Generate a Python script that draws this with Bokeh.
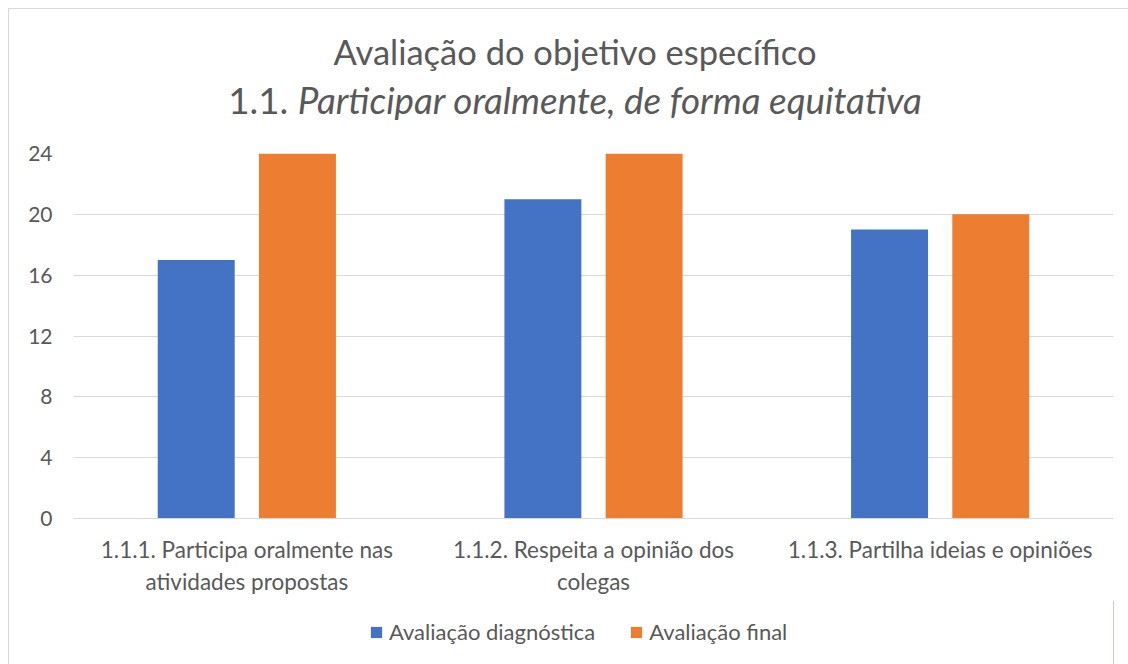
from bokeh.plotting import figure
from bokeh.models import (FactorRange, Range1d, Legend, LegendItem,
                          ColumnDataSource, FixedTicker, Div)
from bokeh.layouts import column
from bokeh.transform import dodge
from bokeh.embed import file_html
from bokeh.resources import INLINE

categories = [
    "1.1.1. Participa oralmente nas\natividades propostas",
    "1.1.2. Respeita a opinião dos\ncolegas",
    "1.1.3. Partilha ideias e opiniões",
]
diagnostica = [17, 21, 19]
final = [24, 24, 20]
series_names = ["Avaliação diagnóstica", "Avaliação final"]
y_ticks = [0, 4, 8, 12, 16, 20, 24]
title_line1 = "Avaliação do objetivo específico"
title_line2_prefix = "1.1."
title_line2_italic = "Participar oralmente, de forma equitativa"

FONT = "Lato"
TXT = "#595959"
GRID = "#D9D9D9"
BLUE = "#4472C4"
ORANGE = "#ED7D31"

src = ColumnDataSource(dict(cat=categories, diag=diagnostica, fin=final))

title_div = Div(
    text=(f'<div style="position:absolute; left:8px; top:8px; width:1120px; '
          f'height:656px; box-sizing:border-box; border-top:1px solid {GRID}; '
          f'border-left:1px solid {GRID}; pointer-events:none;"></div>'
          f'<div style="width:1106px; margin-left:22px; padding-top:28px; '
          f'text-align:center; font-family:Lato; color:{TXT};">'
          f'<div style="font-size:34.5px; line-height:48px; height:48px;">{title_line1}</div>'
          f'<div style="font-size:36.8px; line-height:48px; height:48px;">{title_line2_prefix} '
          f'<i>{title_line2_italic}</i></div></div>'),
    width=1128, height=133, margin=(0, 0, 0, 0))

p = figure(width=1128, height=467, output_backend="svg", toolbar_location=None,
           x_range=FactorRange(*categories, range_padding=0),
           y_range=Range1d(0, 24),
           min_border_left=73, min_border_right=15,
           min_border_top=20, min_border_bottom=82, margin=(0, 0, 0, 0))
p.outline_line_color = None
p.background_fill_color = None
p.border_fill_color = None

r1 = p.vbar(x=dodge("cat", -0.146, range=p.x_range), top="diag", width=0.222,
            source=src, fill_color=BLUE, line_color=None)
r2 = p.vbar(x=dodge("cat", 0.146, range=p.x_range), top="fin", width=0.222,
            source=src, fill_color=ORANGE, line_color=None)

p.xgrid.grid_line_color = None
p.ygrid.grid_line_color = GRID
p.ygrid.grid_line_width = 1

p.yaxis.ticker = FixedTicker(ticks=y_ticks)
p.yaxis.axis_line_color = None
p.yaxis.major_tick_line_color = None
p.yaxis.minor_tick_line_color = None
p.yaxis.major_label_text_font = FONT
p.yaxis.major_label_text_font_size = "21px"
p.yaxis.major_label_text_color = TXT
p.yaxis.major_label_standoff = 15

p.xaxis.axis_line_color = GRID
p.xaxis.major_tick_line_color = None
p.xaxis.minor_tick_line_color = None
p.xaxis.major_label_text_font = FONT
p.xaxis.major_label_text_font_size = "22.5px"
p.xaxis.major_label_text_color = TXT
p.xaxis.major_label_standoff = 11
p.xaxis.major_label_orientation = "horizontal"

# separate strip for the legend, below the chart (no axes at all)
lf = figure(width=1128, height=64, output_backend="svg", toolbar_location=None,
            x_range=Range1d(0, 1), y_range=Range1d(0, 1),
            x_axis_location=None, y_axis_location=None,
            min_border_left=10, min_border_right=0, min_border_top=0,
            min_border_bottom=0, margin=(0, 0, 0, 0))
lf.grid.visible = False
lf.outline_line_color = None
lf.background_fill_color = "white"
lf.border_fill_color = None
# swatch-only renderers: their single point lies outside the visible range
lsrc = ColumnDataSource(dict(x=[5], top=[1]))
g1 = lf.vbar(x="x", top="top", width=0.1, source=lsrc, fill_color=BLUE, line_color=None)
g2 = lf.vbar(x="x", top="top", width=0.1, source=lsrc, fill_color=ORANGE, line_color=None)
legend = Legend(items=[LegendItem(label=series_names[0], renderers=[g1]),
                       LegendItem(label=series_names[1], renderers=[g2])],
                orientation="horizontal", location=(296, 19),
                glyph_width=14, glyph_height=14, label_standoff=6, spacing=34,
                label_text_font=FONT, label_text_font_size="22px",
                label_text_color=TXT, border_line_color=None,
                background_fill_alpha=0, margin=0, padding=0)
lf.add_layout(legend)

layout = column(title_div, p, lf, spacing=0)
open("out.html", "w").write(file_html(layout, INLINE))
